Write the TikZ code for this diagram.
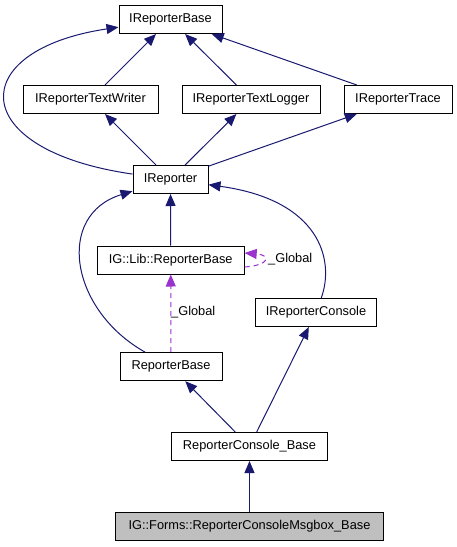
\documentclass[tikz,border=0pt]{standalone}
\usepackage{fontspec}
\setmainfont{Liberation Sans}
\usetikzlibrary{arrows.meta, calc}

\definecolor{edgeblue}{HTML}{191970}
\definecolor{globpurple}{HTML}{9A32CD}

\begin{document}
\begin{tikzpicture}[
  x=1pt, y=-1pt,
  >={Triangle[length=12pt, width=10pt]},
  every node/.style={font=\fontsize{12.8}{14}\selectfont},
  cls/.style  = {draw=black, line width=1pt, fill=white, minimum height=28pt, inner sep=0pt},
  this/.style = {cls, fill=black!25},
  inh/.style  = {->, edgeblue, line width=1pt},
  glob/.style = {->, globpurple, line width=1pt, dash pattern=on 5pt off 4pt},
  lbl/.style  = {anchor=west, inner sep=1pt},
]
  \useasboundingbox (0,0) rectangle (456,547);
  \node[cls, minimum width=103pt] (base)    at (170.5,19.5)  {IReporterBase};
  \node[cls, minimum width=135pt] (writer)  at (90.5,99.5)   {IReporterTextWriter};
  \node[cls, minimum width=138pt] (logger)  at (251,99.5)    {IReporterTextLogger};
  \node[cls, minimum width=108pt] (trace)   at (398,99.5)    {IReporterTrace};
  \node[cls, minimum width=75pt]  (irep)    at (170.5,179.5) {IReporter};
  \node[cls, minimum width=147pt] (lib)     at (170.7,260)   {IG::Lib::ReporterBase};
  \node[cls, minimum width=121pt] (console) at (316,312.5)   {IReporterConsole};
  \node[cls, minimum width=102pt] (repbase) at (171,366.7)   {ReporterBase};
  \node[cls, minimum width=156pt] (cbase)   at (249.5,446.5) {ReporterConsole\_Base};
  \node[this, minimum width=268pt] (msgbox) at (249.5,526.5) {IG::Forms::ReporterConsoleMsgbox\_Base};

  \foreach \a/\b in {writer/base,logger/base,trace/base,irep/writer,irep/logger,irep/trace,
                     lib/irep,cbase/repbase,cbase/console,msgbox/cbase}
     \draw[inh] (\a) -- (\b);
  \draw[inh] (irep) .. controls (-35,150) and (-35,50) .. (base);
  \draw[inh] (repbase) .. controls (70,310) and (55,215) .. (irep);
  \draw[inh] (console) .. controls (335,260) and (320,200) .. (irep);

  % _Global members
  \draw[glob] (repbase) -- (lib);
  \draw[glob] ([yshift=-7pt]lib.east) .. controls +(26,-2) and +(26,2) .. ([yshift=7pt]lib.east);
  \node[lbl] (gl1) at (170,312) {\_Global};
  \node[lbl] (gl2) at (267,259) {\_Global};
\end{tikzpicture}
\end{document}
